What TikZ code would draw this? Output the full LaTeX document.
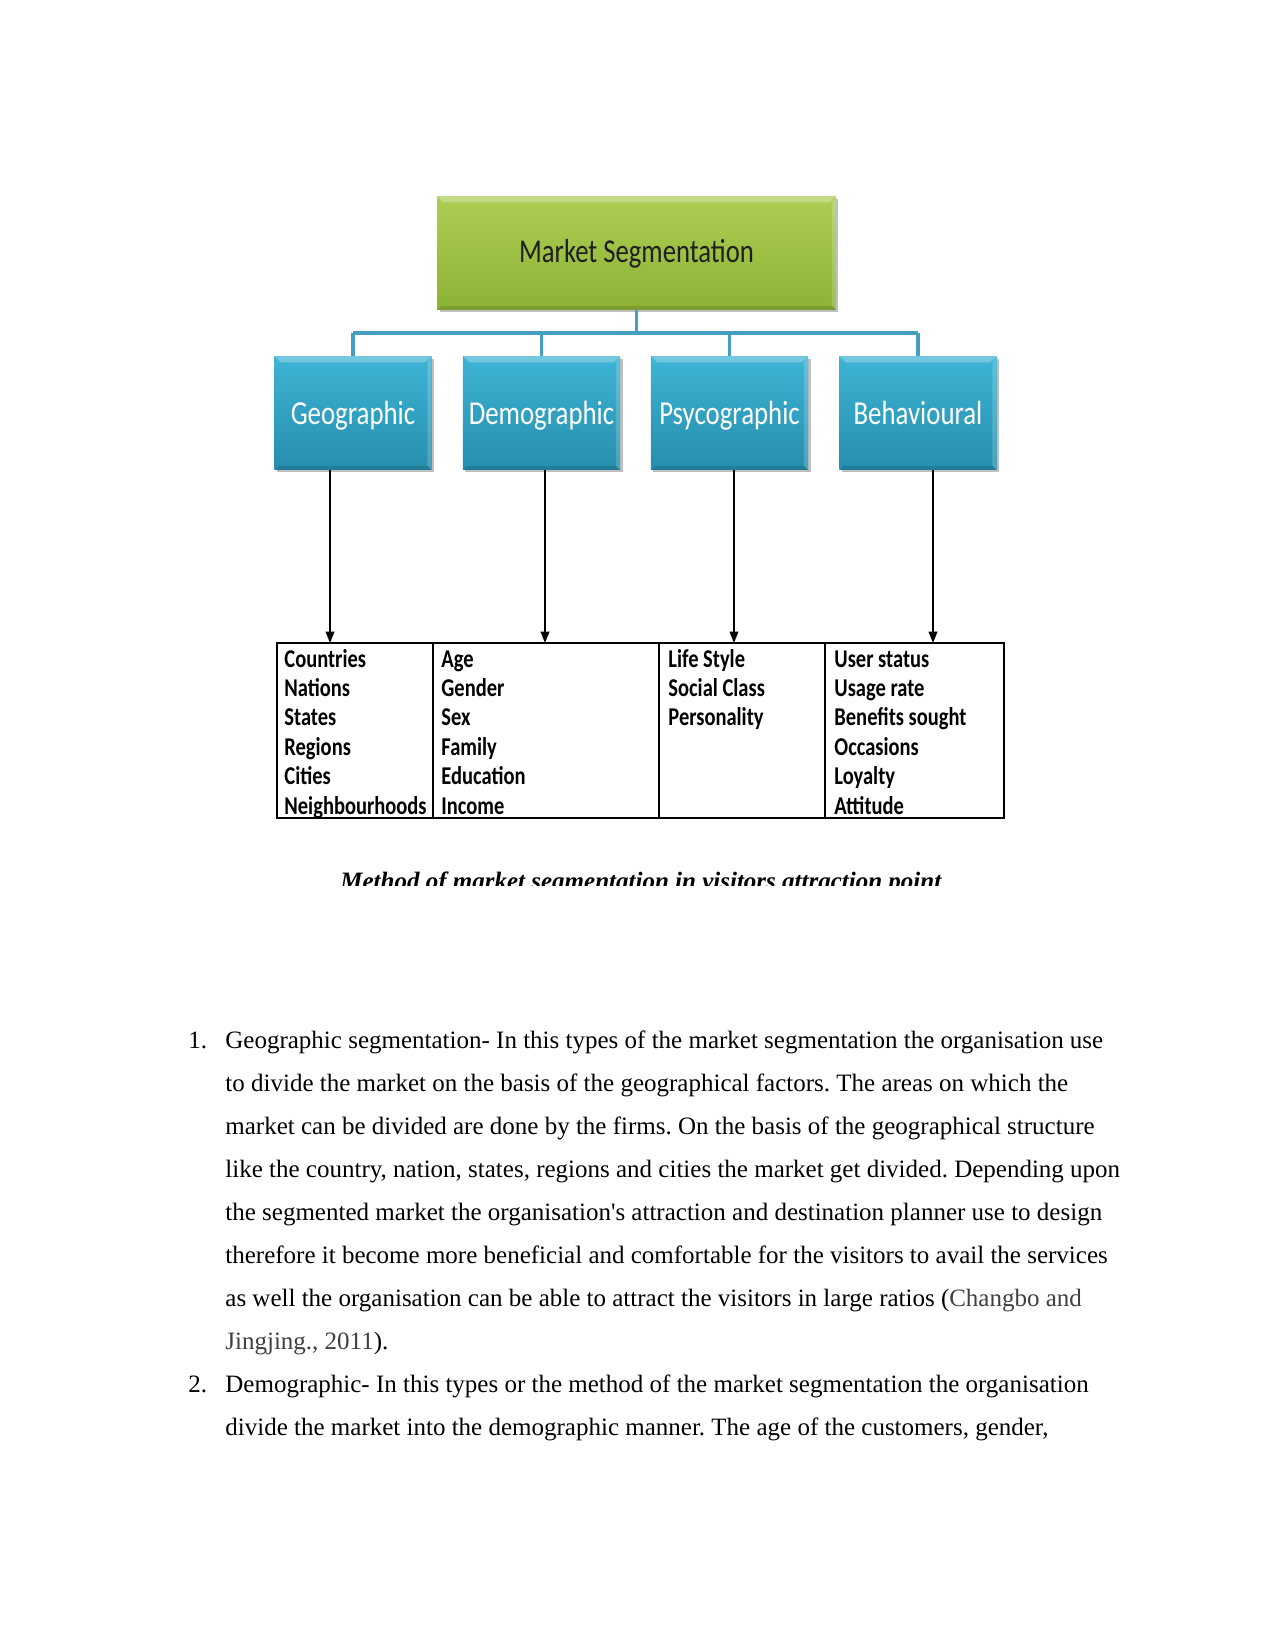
\documentclass[tikz,border=0pt]{standalone}
\usepackage{fontspec}
\setmainfont{Liberation Serif}
\newfontfamily\bodyfont{Liberation Serif}
\newfontfamily\capfont{Liberation Serif}
\newfontfamily\diagfont{Carlito}[FakeStretch=0.8]
\newfontfamily\celldiag{Carlito Bold}[FakeStretch=0.8]
\usetikzlibrary{arrows.meta,shadows}
\definecolor{gtop}{RGB}{172,206,84}
\definecolor{gbot}{RGB}{140,178,52}
\definecolor{btop}{RGB}{62,180,212}
\definecolor{bbot}{RGB}{38,142,174}
\definecolor{conn}{RGB}{70,158,192}
\definecolor{cite}{RGB}{64,64,64}
\tikzset{
  bevel/.style={path picture={
      \fill[white, opacity=0.28] (path picture bounding box.north west) --
        (path picture bounding box.north east) --
        ([xshift=-3pt,yshift=-3pt]path picture bounding box.north east) --
        ([xshift=3pt,yshift=-3pt]path picture bounding box.north west) -- cycle;
      \fill[white, opacity=0.18] (path picture bounding box.north east) --
        (path picture bounding box.south east) --
        ([xshift=-2pt,yshift=2pt]path picture bounding box.south east) --
        ([xshift=-2pt,yshift=-3pt]path picture bounding box.north east) -- cycle;
      \fill[black, opacity=0.12] (path picture bounding box.south west) --
        (path picture bounding box.south east) --
        ([xshift=-2pt,yshift=2pt]path picture bounding box.south east) --
        ([xshift=2pt,yshift=2pt]path picture bounding box.south west) -- cycle;
  }},
  greenbox/.style={rectangle, inner sep=0pt, outer sep=0pt,
    minimum width=191.5pt, minimum height=54.7pt,
    top color=gtop, bottom color=gbot, bevel,
    drop shadow={shadow xshift=1.2pt, shadow yshift=-1.2pt, fill=black, opacity=0.25},
    font=\diagfont\fontsize{16pt}{18pt}\selectfont, text=black!88,
    text height=11pt, text depth=1.4pt},
  bluebox/.style={rectangle, inner sep=0pt, outer sep=0pt,
    minimum width=75.4pt, minimum height=54.7pt,
    top color=btop, bottom color=bbot, bevel,
    drop shadow={shadow xshift=1.2pt, shadow yshift=-1.2pt, fill=black, opacity=0.25},
    font=\diagfont\fontsize{16.1pt}{18pt}\selectfont, text=white,
    text height=12pt, text depth=1.4pt},
  tree/.style={draw=conn, line width=1.5pt},
  arr/.style={draw=black, line width=0.7pt, -{Triangle[length=5.5pt,width=4.2pt]}},
  celltext/.style={anchor=base west, inner sep=0pt, font=\celldiag\fontsize{12.3pt}{14pt}\selectfont},
  bodyline/.style={anchor=base west, inner sep=0pt, font=\bodyfont\fontsize{12pt}{14pt}\selectfont\frenchspacing},
  captext/.style={anchor=base west, inner sep=0pt, font=\capfont\bfseries\itshape\fontsize{12pt}{14pt}\selectfont},
}
\begin{document}
\begin{tikzpicture}[x=0.48pt, y=-0.48pt]
\useasboundingbox (0,0) rectangle (1275,1650);
\fill[white] (0,0) rectangle (1275,1650);

% top box
\node[greenbox] (ms) at (636.5,253) {Market Segmentation};
% second level
\node[bluebox] (geo) at (353,413) {Geographic};
\node[bluebox] (dem) at (541.5,413) {Demographic};
\node[bluebox] (psy) at (729.5,413) {Psycographic};
\node[bluebox] (beh) at (918,413) {Behavioural};

\coordinate (bus) at (0,333);
\draw[tree] (ms.south) -- (ms.south |- bus);
\draw[tree] (geo.north |- bus) -- (beh.north |- bus);
\foreach \b in {geo,dem,psy,beh}{
  \draw[tree] (\b.north |- bus) -- (\b.north);
}

% table
\node[draw=black, line width=1pt, rectangle, inner sep=0pt, outer sep=0pt,
      minimum width=349pt, minimum height=84pt] (tab) at (640.5,730.5) {};
\coordinate (d1) at (433,0);
\coordinate (d2) at (659,0);
\coordinate (d3) at (825,0);
\foreach \d in {d1,d2,d3}{
  \draw[line width=1pt] (tab.north -| \d) -- (tab.south -| \d);
}

% arrows
\coordinate (a1) at (330,0);
\coordinate (a2) at (545,0);
\coordinate (a3) at (734,0);
\coordinate (a4) at (933,0);
\draw[arr] (geo.south -| a1) -- (tab.north -| a1);
\draw[arr] (dem.south -| a2) -- (tab.north -| a2);
\draw[arr] (psy.south -| a3) -- (tab.north -| a3);
\draw[arr] (beh.south -| a4) -- (tab.north -| a4);

% table texts
\foreach \t [count=\i] in {Countries,Nations,States,Regions,Cities,Neighbourhoods}{
  \node[celltext] (c1\i) at (284,{667+(\i-1)*29.4}) {\t};
}
\foreach \t [count=\i] in {Age,Gender,Sex,Family,Education,Income}{
  \node[celltext] (c2\i) at (441,{667+(\i-1)*29.4}) {\t};
}
\foreach \t [count=\i] in {Life Style,Social Class,Personality}{
  \node[celltext] (c3\i) at (668,{667+(\i-1)*29.4}) {\t};
}
\foreach \t [count=\i] in {User status,Usage rate,Benefits sought,Occasions,Loyalty,Attitude}{
  \node[celltext] (c4\i) at (834,{667+(\i-1)*29.4}) {\t};
}

% caption (clipped)
\begin{scope}
\clip (0,0) rectangle (1275,885);
\node[captext] (cap) at (340,889.5) {Method of market segmentation in visitors attraction point};
\end{scope}

% body text
\node[bodyline] (n1) at (188,1048) {1.};
\node[bodyline] (l1) at (225,1048) {Geographic segmentation- In this types of the market segmentation the organisation use};
\node[bodyline] (l2) at (225,1091.1) {to divide the market on the basis of the geographical factors. The areas on which the};
\node[bodyline] (l3) at (225,1134.2) {market can be divided are done by the firms. On the basis of the geographical structure};
\node[bodyline] (l4) at (225,1177.3) {like the country, nation, states, regions and cities the market get divided. Depending upon};
\node[bodyline] (l5) at (225,1220.4) {the segmented market the organisation's attraction and destination planner use to design};
\node[bodyline] (l6) at (225,1263.5) {therefore it become more beneficial and comfortable for the visitors to avail the services};
\node[bodyline] (l7) at (225,1306.6) {as well the organisation can be able to attract the visitors in large ratios (\textcolor{cite}{Changbo and}};
\node[bodyline] (l8) at (225,1349.7) {\textcolor{cite}{Jingjing., 2011}).};
\node[bodyline] (n2) at (188,1392.8) {2.};
\node[bodyline] (l9) at (225,1392.8) {Demographic- In this types or the method of the market segmentation the organisation};
\node[bodyline] (l10) at (225,1435.9) {divide the market into the demographic manner. The age of the customers, gender,};
\end{tikzpicture}
\end{document}
